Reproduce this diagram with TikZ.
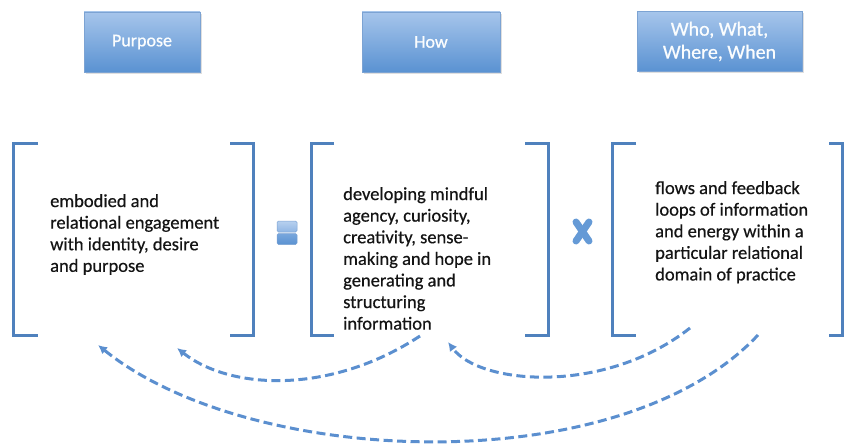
\documentclass[tikz,border=0pt]{standalone}
\usepackage{fontspec}
\setmainfont{Carlito}
\newfontfamily\bodyfont{Carlito}[FakeBold=0.5]
\newfontfamily\headfont{Carlito}[FakeBold=0.7]
\usetikzlibrary{arrows.meta,shadows}

\definecolor{brk}{HTML}{4F81BD}
\definecolor{flow}{HTML}{5B8FCF}
\definecolor{boxtop}{HTML}{A6C5EB}
\definecolor{boxbot}{HTML}{5A92D2}
\definecolor{boxrim}{HTML}{7CA3D3}

\tikzset{
  headbox/.style={draw=boxrim, line width=0.8pt, top color=boxtop, bottom color=boxbot,
    minimum height=60pt, inner sep=2pt, align=center, text=white!96!boxtop,
    font=\headfont\fontsize{18}{23}\selectfont,
    drop shadow={shadow xshift=1.5pt, shadow yshift=-2pt, opacity=0.25}},
  bracket/.style={draw=brk, line width=3pt, line cap=butt, line join=miter},
  body/.style={anchor=north west, inner sep=0pt, align=left, text=black!92,
    font=\bodyfont\fontsize{18.5}{21.6}\selectfont},
  eqbar/.style={draw=boxrim, line width=0.5pt, rounded corners=1.5pt,
    minimum width=20pt, minimum height=11pt, inner sep=0pt},
  flowarrow/.style={draw=flow, line width=3pt, dash pattern=on 9pt off 4.5pt,
    -{Latex[length=9pt,width=9pt]}},
}

\begin{document}
\begin{tikzpicture}[x=1pt,y=-1pt]
  \useasboundingbox (0,0) rectangle (847,444);

  % column headings
  \node[headbox, minimum width=116pt] (purpose) at (142,42) {Purpose};
  \node[headbox, minimum width=138pt] (how) at (431,42) {How};
  \node[headbox, minimum width=165pt, font=\headfont\fontsize{20}{23}\selectfont]
    (who) at (719.5,41.5) {Who, What,\\Where, When};

  % bracket pairs
  \draw[bracket] (38,143) -- (13,143) -- (13,335) -- (38,335);
  \draw[bracket] (230,143) -- (253,143) -- (253,335) -- (230,335);
  \draw[bracket] (334,143) -- (311,143) -- (311,335) -- (334,335);
  \draw[bracket] (525,143) -- (548,143) -- (548,335) -- (525,335);
  \draw[bracket] (636,143) -- (612,143) -- (612,335) -- (636,335);
  \draw[bracket] (829,143) -- (842,143) -- (842,335) -- (829,335);

  % bracket contents
  \node[body] (purposetext) at (50,194)
    {embodied and\\relational engagement\\with identity, desire\\and purpose};
  \node[body] (howtext) at (343,187)
    {developing mindful\\agency, curiosity,\\creativity, sense-\\making and hope in\\generating and\\structuring\\information};
  \node[body] (whotext) at (655,181)
    {flows and feedback\\loops of information\\and energy within a\\particular relational\\domain of practice};

  % equals sign
  \node[eqbar, top color=boxtop!80, bottom color=boxtop!70!boxbot] (eqtop) at (287,226.5) {};
  \node[eqbar, top color=boxtop!40!boxbot, bottom color=boxbot] (eqbot) at (287,239) {};

  % multiplication sign
  \coordinate (xa) at (576,222);
  \coordinate (xb) at (589,241);
  \coordinate (xc) at (589,222);
  \coordinate (xd) at (576,241);
  \draw[boxbot!85!boxtop, line width=7pt, line cap=round] (xa) -- (xb);
  \draw[boxbot!85!boxtop, line width=7pt, line cap=round] (xc) -- (xd);

  % feedback loops
  \coordinate (howout) at (420,336);
  \coordinate (purposein1) at (177,348);
  \coordinate (whoout1) at (690,328);
  \coordinate (howin) at (448,342);
  \coordinate (whoout2) at (758,335);
  \coordinate (purposein2) at (98,345);

  \draw[flowarrow] (howout) .. controls (330,395) and (230,390) .. (purposein1);
  \draw[flowarrow] (whoout1) .. controls (605,395) and (480,385) .. (howin);
  \draw[flowarrow] (whoout2) .. controls (620,482) and (250,468) .. (purposein2);
\end{tikzpicture}
\end{document}
